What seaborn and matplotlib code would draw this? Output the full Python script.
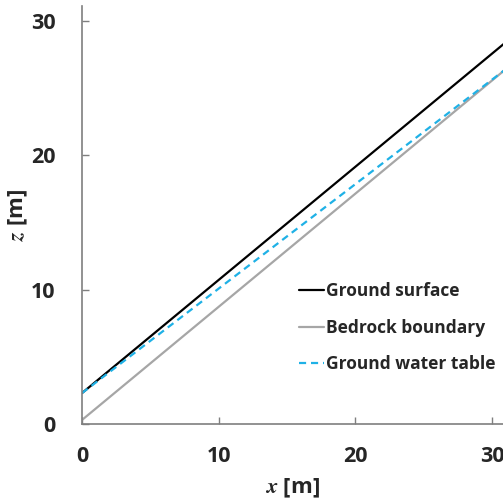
"""
Slope cross-section: ground surface, bedrock boundary and ground water table.
"""

import matplotlib
matplotlib.use("Agg")
import matplotlib.pyplot as plt
import seaborn as sns

# ── Data ──────────────────────────────────────────────────────────────────────
x_pts         = [0.0, 31.0]
ground_z      = [2.3, 28.4]
bedrock_z     = [0.3, 26.4]
water_table_z = [2.3, 26.4]

series_names = ["Ground surface", "Bedrock boundary", "Ground water table"]
x_ticks = [0, 10, 20, 30]
y_ticks = [0, 10, 20, 30]

# ── Style ─────────────────────────────────────────────────────────────────────
sns.set_style("white")
plt.rcParams["font.family"] = ["Open Sans", "DejaVu Sans"]
plt.rcParams["font.weight"] = "bold"
plt.rcParams["mathtext.fontset"] = "stix"

SPINE = "#7f7f7f"

fig = plt.figure(figsize=(5.03, 5.0), dpi=100)
ax = fig.add_axes([0.163, 0.152, 0.837, 0.836])

sns.lineplot(x=x_pts, y=ground_z, color="black", lw=1.6,
             label=series_names[0], ax=ax)
sns.lineplot(x=x_pts, y=bedrock_z, color="#a6a6a6", lw=1.6,
             label=series_names[1], ax=ax)
sns.lineplot(x=x_pts, y=water_table_z, color="#1fb1e6", lw=1.6,
             label=series_names[2], ax=ax)
ax.lines[2].set_dashes([3.2, 2.2])

ax.set_xlim(0, 30.8)
ax.set_ylim(0, 31.1)
ax.set_xticks(x_ticks)
ax.set_yticks(y_ticks)

for side in ["top", "right"]:
    ax.spines[side].set_visible(False)
for side in ["left", "bottom"]:
    ax.spines[side].set_color(SPINE)
    ax.spines[side].set_linewidth(1.2)

ax.tick_params(axis="both", direction="in", length=5, width=1.0,
               color=SPINE, labelsize=15.5, left=True, bottom=True)
ax.tick_params(axis="x", pad=16)
ax.tick_params(axis="y", pad=19)
for lab in ax.get_xticklabels() + ax.get_yticklabels():
    lab.set_fontweight("bold")

ax.set_xlabel(r"$x$ [m]", fontsize=16, fontweight="bold", labelpad=7)
ax.set_ylabel(r"$z$ [m]", fontsize=16, fontweight="bold", labelpad=1)

leg = ax.legend(loc="upper left", bbox_to_anchor=(0.515, 0.34),
                frameon=False, fontsize=12.5, handlelength=1.45,
                handletextpad=0.1, labelspacing=1.08,
                borderaxespad=0, borderpad=0)
for t in leg.get_texts():
    t.set_fontweight("bold")

fig.savefig("out.png", dpi=100)
plt.close(fig)
